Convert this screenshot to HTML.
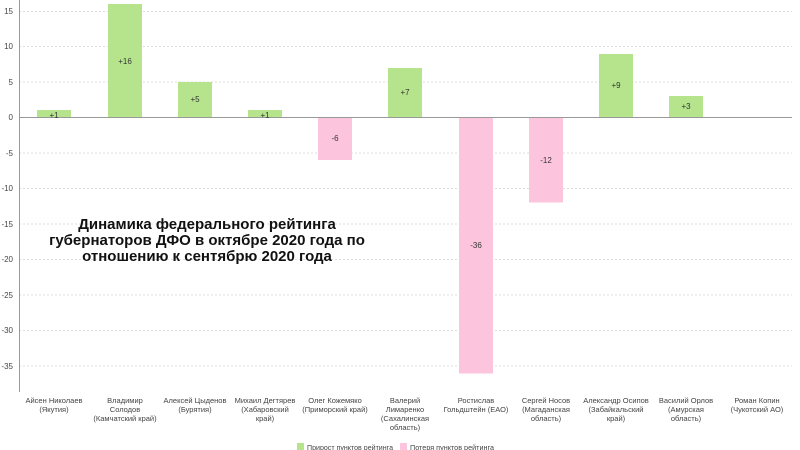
<html><head><style>body{margin:0;background:#fff}</style></head><body>
<svg width="800" height="450" xmlns="http://www.w3.org/2000/svg" font-family="Liberation Sans, sans-serif">
<g stroke="#ddd" stroke-dasharray="2,2">
<line x1="19" x2="792" y1="11.5" y2="11.5"/><line x1="19" x2="792" y1="46.5" y2="46.5"/><line x1="19" x2="792" y1="82" y2="82"/>
<line x1="19" x2="792" y1="153" y2="153"/><line x1="19" x2="792" y1="188.5" y2="188.5"/><line x1="19" x2="792" y1="224" y2="224"/><line x1="19" x2="792" y1="259.5" y2="259.5"/><line x1="19" x2="792" y1="295" y2="295"/><line x1="19" x2="792" y1="330.5" y2="330.5"/><line x1="19" x2="792" y1="366" y2="366"/>
</g>
<g font-size="8" fill="#444" text-anchor="end">
<text x="13" y="14">15</text><text x="13" y="49">10</text><text x="13" y="85">5</text><text x="13" y="120">0</text><text x="13" y="156">-5</text><text x="13" y="191">-10</text><text x="13" y="227">-15</text><text x="13" y="262">-20</text><text x="13" y="298">-25</text><text x="13" y="333">-30</text><text x="13" y="369">-35</text>
</g>
<g fill="#b5e48c">
<rect x="37" y="110" width="34" height="7.5"/><rect x="108" y="4" width="34" height="113.5"/><rect x="178" y="82" width="34" height="35.5"/><rect x="248" y="110" width="34" height="7.5"/><rect x="388" y="68" width="34" height="49.5"/><rect x="599" y="54" width="34" height="63.5"/><rect x="669" y="96" width="34" height="21.5"/>
</g>
<g fill="#fcc5dd">
<rect x="318" y="117.5" width="34" height="42.5"/><rect x="459" y="117.5" width="34" height="256"/><rect x="529" y="117.5" width="34" height="85"/>
</g>
<line x1="19" x2="792" y1="117.5" y2="117.5" stroke="#999"/>
<line x1="19.5" x2="19.5" y1="0" y2="392" stroke="#999"/>
<g font-size="8" fill="#333" text-anchor="middle">
<text x="54" y="118">+1</text><text x="125" y="64">+16</text><text x="195" y="102">+5</text><text x="265" y="118">+1</text><text x="335" y="141">-6</text><text x="405" y="95">+7</text><text x="476" y="248">-36</text><text x="546" y="163">-12</text><text x="616" y="88">+9</text><text x="686" y="109">+3</text>
</g>
<g font-size="7.5" fill="#444" text-anchor="middle">
<text x="54" y="403">Айсен Николаев</text><text x="54" y="412">(Якутия)</text>
<text x="125" y="403">Владимир</text><text x="125" y="412">Солодов</text><text x="125" y="421">(Камчатский край)</text>
<text x="195" y="403">Алексей Цыденов</text><text x="195" y="412">(Бурятия)</text>
<text x="265" y="403">Михаил Дегтярев</text><text x="265" y="412">(Хабаровский</text><text x="265" y="421">край)</text>
<text x="335" y="403">Олег Кожемяко</text><text x="335" y="412">(Приморский край)</text>
<text x="405" y="403">Валерий</text><text x="405" y="412">Лимаренко</text><text x="405" y="421">(Сахалинская</text><text x="405" y="430">область)</text>
<text x="476" y="403">Ростислав</text><text x="476" y="412">Гольдштейн (ЕАО)</text>
<text x="546" y="403">Сергей Носов</text><text x="546" y="412">(Магаданская</text><text x="546" y="421">область)</text>
<text x="616" y="403">Александр Осипов</text><text x="616" y="412">(Забайкальский</text><text x="616" y="421">край)</text>
<text x="686" y="403">Василий Орлов</text><text x="686" y="412">(Амурская</text><text x="686" y="421">область)</text>
<text x="757" y="403">Роман Копин</text><text x="757" y="412">(Чукотский АО)</text>
</g>
<rect x="297" y="443" width="7" height="7" fill="#b5e48c"/><text x="307" y="450" font-size="7.5" fill="#444" textLength="86" lengthAdjust="spacingAndGlyphs">Прирост пунктов рейтинга</text>
<rect x="400" y="443" width="7" height="7" fill="#fcc5dd"/><text x="410" y="450" font-size="7.5" fill="#444" textLength="84" lengthAdjust="spacingAndGlyphs">Потеря пунктов рейтинга</text>
<g font-size="15" font-weight="bold" fill="#111" text-anchor="middle">
<text x="207" y="229">Динамика федерального рейтинга</text>
<text x="207" y="245">губернаторов ДФО в октябре 2020 года по</text>
<text x="207" y="261">отношению к сентябрю 2020 года</text>
</g>
</svg>
</body></html>
